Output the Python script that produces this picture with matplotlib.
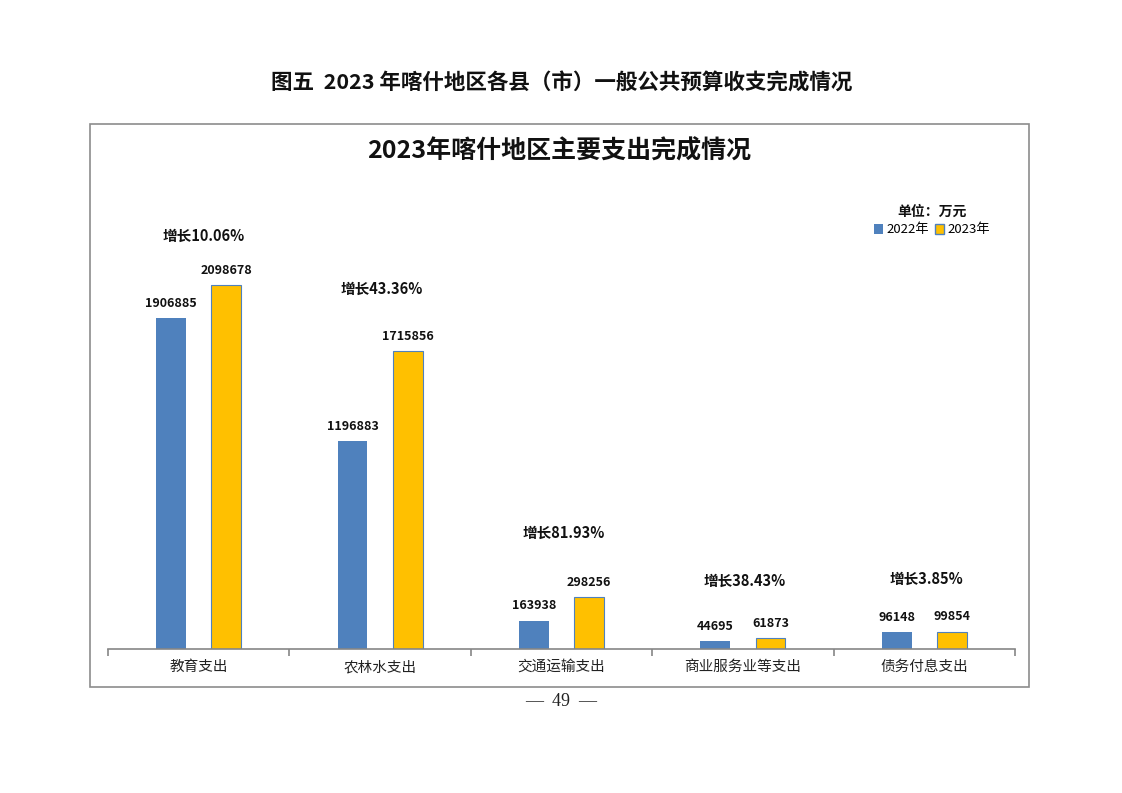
import numpy as np
import matplotlib
matplotlib.use('Agg')
import matplotlib.pyplot as plt
from matplotlib.patches import Rectangle, Patch

plt.rcParams['font.family'] = ['Noto Sans CJK SC', 'DejaVu Sans']

# 数据（单位：万元）
categories = ['教育支出', '农林水支出', '交通运输支出', '商业服务业等支出', '债务付息支出']
values_2022 = [1906885, 1196883, 163938, 44695, 96148]
values_2023 = [2098678, 1715856, 298256, 61873, 99854]
series_names = ['2022年', '2023年']

growth = [(b / a - 1) * 100 for a, b in zip(values_2022, values_2023)]
growth_labels = ['增长%.2f%%' % g for g in growth]
growth_offset = [49, 63, 64, 57, 53]  # 像素，相对于较高柱顶

fig = plt.figure(figsize=(11.22, 7.93), dpi=100)
fig.patch.set_facecolor('white')

# 图表外框
fig.patches.append(Rectangle((90 / 1122, 1 - 687 / 793), 939 / 1122, 563 / 793,
                             transform=fig.transFigure, fill=False,
                             edgecolor='#8c8c8c', linewidth=1.2))

ax = fig.add_axes([108 / 1122, 144 / 793, 907 / 1122, 433.6 / 793])

x = np.arange(len(categories))
bw = 0.165
off = 0.152
b1 = ax.bar(x - off, values_2022, width=bw, color='#4F81BD', label=series_names[0])
b2 = ax.bar(x + off, values_2023, width=bw, color='#FFC000', edgecolor='#4F81BD',
            linewidth=0.8, label=series_names[1])

for bars in (b1, b2):
    for r in bars:
        ax.annotate('%d' % r.get_height(), (r.get_x() + r.get_width() / 2, r.get_height()),
                    xytext=(0, 6), textcoords='offset points', ha='center', va='bottom',
                    fontsize=9, fontweight='bold', color='#111111')

for i in range(len(categories)):
    top = max(values_2022[i], values_2023[i])
    ax.annotate(growth_labels[i], (x[i], top), xytext=(5 if i == 0 else 2, growth_offset[i]),
                textcoords='offset pixels', ha='center', va='center',
                fontsize=10.5, fontweight='bold', color='#111111')

ax.set_xlim(-0.5, len(categories) - 0.5)
ax.set_ylim(0, 2500000)
ax.set_yticks([])
for s in ['top', 'right', 'left']:
    ax.spines[s].set_visible(False)
ax.spines['bottom'].set_color('#868686')
ax.spines['bottom'].set_linewidth(1.2)
ax.set_xticks(x)
ax.set_xticklabels(categories, fontsize=10.5, color='#222222')
ax.tick_params(axis='x', which='major', length=0, pad=8)
ax.set_xticks(np.arange(len(categories) + 1) - 0.5, minor=True)
ax.tick_params(axis='x', which='minor', length=5, color='#868686', width=1.2)
ax.patch.set_alpha(0)

# 标题
fig.text(562 / 1122, 1 - 83 / 793, '图五  2023 年喀什地区各县（市）一般公共预算收支完成情况',
         ha='center', va='center', fontsize=15.5, fontweight='bold', color='#111111')
fig.text(559 / 1122, 1 - 151 / 793, '2023年喀什地区主要支出完成情况',
         ha='center', va='center', fontsize=18, fontweight='bold', color='#111111')

# 图例
fig.text(932 / 1122, 1 - 212 / 793, '单位：万元', ha='center', va='center',
         fontsize=10, fontweight='bold', color='#111111')
handles = [Patch(facecolor='#4F81BD'), Patch(facecolor='#FFC000', edgecolor='#4F81BD')]
fig.legend(handles, series_names, loc='center', bbox_to_anchor=(932 / 1122, 1 - 230 / 793),
           ncol=2, frameon=False, fontsize=9.5, handlelength=0.7, handleheight=0.7,
           handletextpad=0.3, columnspacing=0.4, borderpad=0)

# 页码
fig.text(561 / 1122, 1 - 702 / 793, '—  49  —', ha='center', va='center',
         fontsize=13, family=['Liberation Serif', 'DejaVu Serif'], color='#222222')

fig.savefig('out.png', dpi=100)
